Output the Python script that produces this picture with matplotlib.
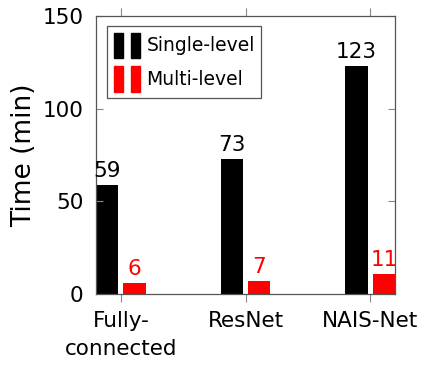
import matplotlib

matplotlib.use("Agg")
import matplotlib.pyplot as plt
from matplotlib.legend_handler import HandlerTuple
from matplotlib.patches import Rectangle
import numpy as np

categories = ["Fully-\nconnected", "ResNet", "NAIS-Net"]
single_level = [59, 73, 123]
multi_level = [6, 7, 11]

plt.rcParams["font.family"] = ["DejaVu Sans"]

fig = plt.figure(figsize=(4.26, 3.69), dpi=100)
ax = fig.add_axes([0.2254, 0.2033, 0.7019, 0.7534])

x = np.arange(len(categories))
width = 0.18
offset = 0.11
ax.bar(x - offset, single_level, width, color="black")
ax.bar(x + offset, multi_level, width, color="#ff0000")

for xi, v in zip(x, single_level):
    ax.text(xi - offset, v + 2, str(v), ha="center", va="bottom", fontsize=15.5, color="black")
for xi, v in zip(x, multi_level):
    ax.text(xi + offset, v + 2, str(v), ha="center", va="bottom", fontsize=15.5, color="#ff0000")

ax.set_xlim(-0.2, 2.2)
ax.set_ylim(0, 150)
ax.set_yticks([0, 50, 100, 150])
ax.set_xticks(x)
ax.set_xticklabels(categories, fontsize=15.5, linespacing=1.5)
ax.tick_params(axis="y", labelsize=15.5, direction="in", right=True, color="#888888", length=5, pad=9)
ax.tick_params(axis="x", direction="out", top=True, color="#888888", length=6, pad=6)
ax.set_ylabel("Time (min)", fontsize=19, labelpad=4)
for sp in ax.spines.values():
    sp.set_color("#555555")
    sp.set_linewidth(0.9)

h_single = (Rectangle((0, 0), 1, 1, color="black"), Rectangle((0, 0), 1, 1, color="black"))
h_multi = (Rectangle((0, 0), 1, 1, color="#ff0000"), Rectangle((0, 0), 1, 1, color="#ff0000"))
leg = ax.legend(
    [h_single, h_multi],
    ["Single-level", "Multi-level"],
    handler_map={tuple: HandlerTuple(ndivide=None, pad=0.45)},
    loc="upper left",
    bbox_to_anchor=(0.037, 0.964),
    borderaxespad=0,
    fontsize=13.5,
    handlelength=1.4,
    handleheight=1.7,
    handletextpad=0.35,
    labelspacing=0.45,
    borderpad=0.35,
    fancybox=False,
    edgecolor="#555555",
    framealpha=1,
)
leg.get_frame().set_linewidth(0.9)

fig.savefig("out.png", dpi=100)
